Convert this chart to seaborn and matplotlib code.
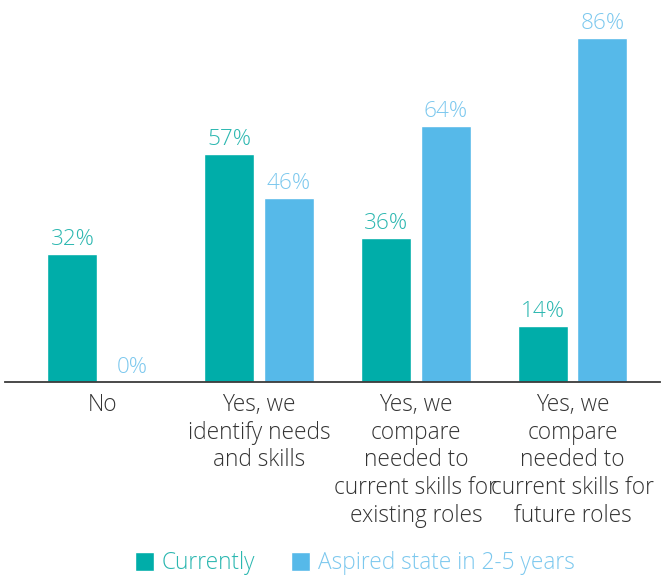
import matplotlib
matplotlib.use("Agg")
import matplotlib.pyplot as plt
import seaborn as sns
import pandas as pd

categories = [
    "No",
    "Yes, we\nidentify needs\nand skills",
    "Yes, we\ncompare\nneeded to\ncurrent skills for\nexisting roles",
    "Yes, we\ncompare\nneeded to\ncurrent skills for\nfuture roles",
]
series = ["Currently", "Aspired state in 2-5 years"]
currently = [32, 57, 36, 14]
aspired = [0, 46, 64, 86]

bar_colors = ["#00ADA9", "#56B9E9"]
text_colors = ["#2BB7B0", "#7CC8EE"]

df = pd.DataFrame({
    "category": categories * 2,
    "series": [series[0]] * len(categories) + [series[1]] * len(categories),
    "value": currently + aspired,
})

sns.set_theme(style="white")
plt.rcParams["font.family"] = ["Open Sans", "DejaVu Sans"]

fig = plt.figure(figsize=(6.62, 5.76), dpi=100)
ax = fig.add_axes([5 / 662, 194 / 576, 655 / 662, 382 / 576])

sns.barplot(data=df, x="category", y="value", hue="series",
            palette=bar_colors, width=0.76, gap=0.16, saturation=1,
            order=categories, hue_order=series, ax=ax)

for cont, col in zip(ax.containers, text_colors):
    ax.bar_label(cont, fmt="{:.0f}%", padding=3, color=col,
                 fontsize=16.2, fontweight="light")

ax.set_ylim(0, 95.5)
ax.set_xlim(-0.62, 3.557)
ax.set_xlabel("")
ax.set_ylabel("")
ax.set_yticks([])
for s in ["top", "left", "right"]:
    ax.spines[s].set_visible(False)
ax.spines["bottom"].set_color("#3a3a3a")
ax.spines["bottom"].set_linewidth(1.3)
ax.tick_params(axis="x", length=0, pad=8, labelsize=16.3, labelcolor="#333333")
for lbl in ax.get_xticklabels():
    lbl.set_fontweight("light")
    lbl.set_multialignment("center")
    lbl.set_linespacing(1.2)

handles, labels = ax.get_legend_handles_labels()
ax.get_legend().remove()
leg = fig.legend(handles, labels, loc="center", bbox_to_anchor=(0.536, 0.022),
                 ncol=2, frameon=False, handlelength=0.85, handleheight=0.85,
                 handletextpad=0.35, columnspacing=1.55, labelcolor=text_colors,
                 prop={"size": 16.3, "weight": "light"})

fig.savefig("out.png", dpi=100)
